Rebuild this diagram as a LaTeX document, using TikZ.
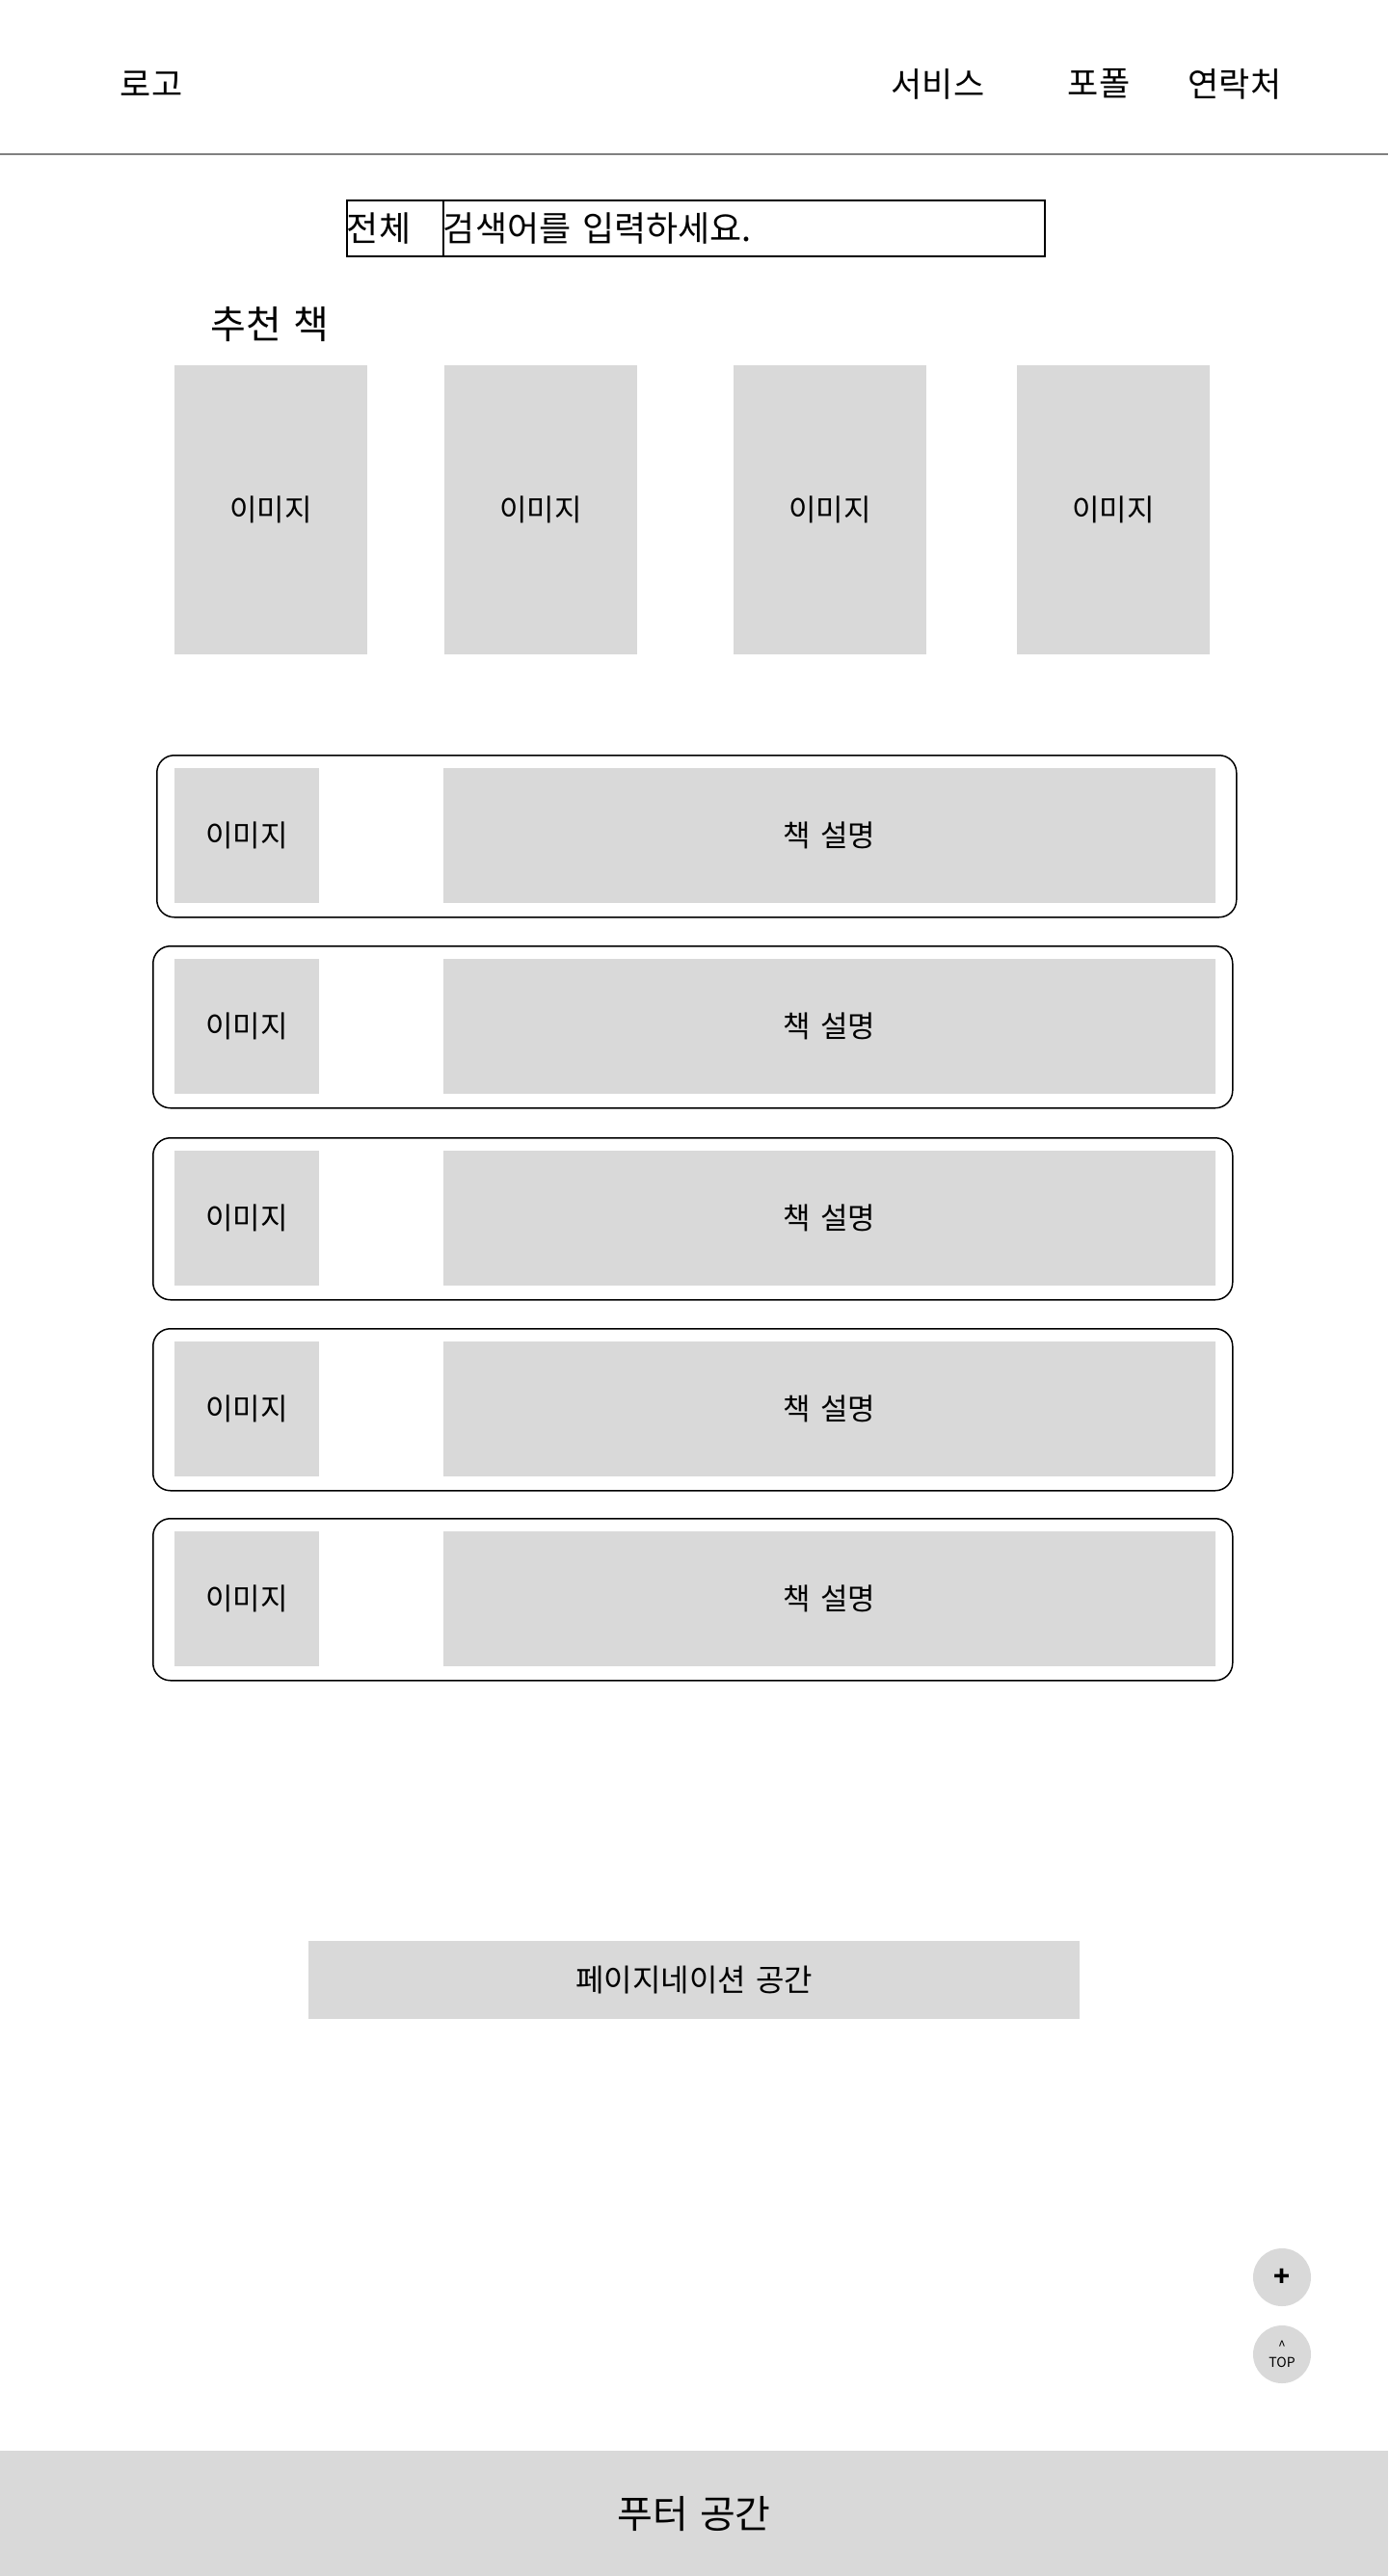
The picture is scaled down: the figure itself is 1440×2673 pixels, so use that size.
\documentclass[tikz,border=0pt]{standalone}
\usepackage{fontspec}
\setmainfont{Noto Sans CJK KR}
\usepackage{tikz}
\usetikzlibrary{positioning}
\definecolor{boxgray}{HTML}{D9D9D9}
\definecolor{rulegray}{HTML}{808080}

\begin{document}
\begin{tikzpicture}[x=1pt,y=-1pt]

\tikzset{menu/.style={inner sep=0pt, font=\fontsize{35}{40}\selectfont},
         placeholder/.style={fill=boxgray, inner sep=0pt, anchor=north west, font=\fontsize{31}{36}\selectfont},
         searchfield/.style={draw, line width=1.8pt, inner sep=0pt, anchor=north west, minimum height=58pt, align=left, font=\fontsize{36}{40}\selectfont},
         bookcard/.style={draw, line width=1.5pt, rounded corners=18pt, anchor=north west, minimum width=1120pt, minimum height=168pt},
         floatbtn/.style={circle, fill=boxgray, inner sep=0pt, minimum size=60pt}}

\useasboundingbox (0,0) rectangle (1440,2673);

\node[menu] (logo) at (157,87) {로고};
\node[menu] (service) at (973,87) {서비스};
\node[menu] (portfolio) at (1140,87) {포폴};
\node[menu] (contact) at (1281,87) {연락처};
\coordinate (ruleL) at (0,160);
\coordinate (ruleR) at (1440,160);
\draw[rulegray, line width=2pt] (ruleL) -- (ruleR);

\node[searchfield, text width=100pt] (category) at (359,207) {전체};
\node[searchfield, text width=624pt] (query) at (459,207) {검색어를 입력하세요.};

\node[inner sep=0pt, anchor=west, font=\fontsize{40}{44}\selectfont] (rectitle) at (218,337) {추천\hspace{4pt} 책};
\foreach \i/\x in {1/181, 2/461, 3/761, 4/1055}
  \node[placeholder, minimum width=200pt, minimum height=300pt] (rec\i) at (\x,379) {이미지};

\foreach \i/\x/\y in {1/162/783, 2/158/981, 3/158/1180, 4/158/1378, 5/158/1575} {
  \node[bookcard] (card\i) at (\x,\y) {};
  \node[placeholder, minimum width=150pt, minimum height=140pt] (thumb\i) at (181,\y+14) {이미지};
  \node[placeholder, minimum width=801pt, minimum height=140pt] (desc\i) at (460,\y+14) {책\hspace{3pt} 설명};
}

\node[placeholder, minimum width=800pt, minimum height=81pt, font=\fontsize{32}{36}\selectfont] (pager) at (320,2014) {페이지네이션\hspace{3pt} 공간};

\node[floatbtn, font=\bfseries\fontsize{28}{30}\selectfont] (plusbtn) at (1330,2363) {+};
\node[floatbtn, align=center, font=\fontsize{14}{17}\selectfont] (topbtn) at (1330,2443) {\textasciicircum\\TOP};

\node[placeholder, minimum width=1440pt, minimum height=130pt, font=\fontsize{40}{44}\selectfont] (footer) at (0,2543) {푸터\hspace{3pt} 공간};

\end{tikzpicture}
\end{document}
